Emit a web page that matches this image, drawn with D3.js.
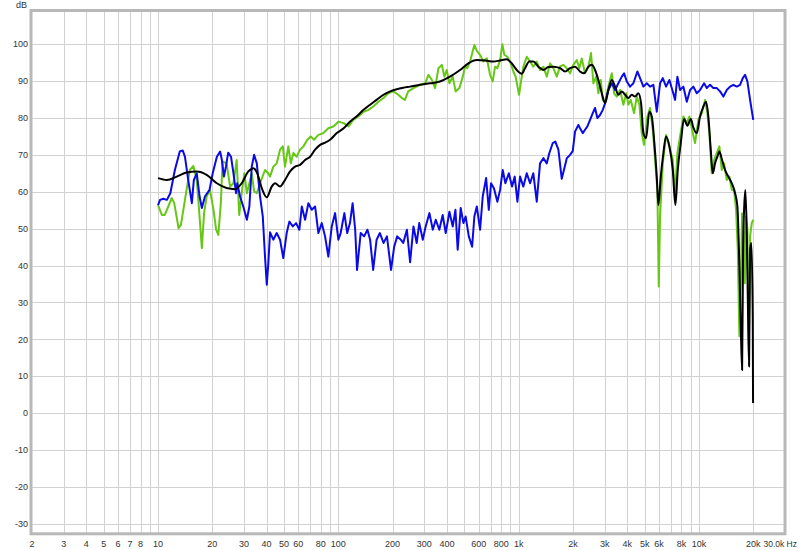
<!DOCTYPE html>
<html><head><meta charset="utf-8">
<script src="https://cdn.jsdelivr.net/npm/d3@7"></script>
<style>body{margin:0;background:#fff;} text{font-family:"Liberation Sans",Arial,sans-serif;}</style>
</head><body>
<svg id="c" width="800" height="550"></svg>
<script>
// ---- data ----
const xTickValues = [2,3,4,5,6,7,8,10,20,30,40,50,60,80,100,200,300,400,600,800,1000,2000,3000,4000,5000,6000,8000,10000,20000];
const xTickLabels = ["2","3","4","5","6","7","8","10","20","30","40","50","60","80","100","200","300","400","600","800","1k","2k","3k","4k","5k","6k","8k","10k","20k"];
const yTickValues = [-30,-20,-10,0,10,20,30,40,50,60,70,80,90,100];

const blueFreq = [
 10,10.26,10.7,11.2,11.7,12.4,13.2,13.7,14.1,14.7,15.4,15.8,16.4,17.0,17.5,18.2,19.3,20.1,21.2,22.1,22.6,23.2,23.8,24.5,25.4,26.2,27.1,27.5,28.5,29.7,31.1,32.1,33.1,34.1,35.3,36.8,38.1,39.2,40.1,40.9,41.8,43.6,45.5,47.5,49.5,51.7,53.5,55.9,58.3,60.8,62.7,65.4,68.2,71.2,74.3,77.5,80.9,84.4,88.0,91.9,95.9,
 100,103,108,112,116,120,124,127,133,139,145,150,156,163,170,178,186,196,204,212,222,229,240,250,261,272,281,294,305,320,334,347,363,379,394,413,431,446,459,477,494,508,529,552,568,586,611,632,660,683,703,730,762,789,816,844,882,919,951,984,
 1018,1062,1109,1157,1206,1260,1314,1371,1432,1480,1546,1598,1661,1734,1786,1849,1928,1995,2054,2143,2190,2267,2334,2405,2489,2576,2653,2732,2828,2927,3014,3145,3285,3426,3572,3732,3843,3978,4148,4328,4554,4756,4916,5134,5355,5587,5834,6085,6299,6570,6853,7157,7370,7590,7856,8195,8560,8928,9310,9723,
 10140,10674,11047,11520,12017,12550,13092,13655,14259,14877,15520,16208,16905,17500,18020,18558,19207,20000];
const blueDb = [
 56.4,57.8,58.1,57.8,59.6,65.9,70.9,71.2,69.5,63.2,56.9,63.2,65,58.7,55.6,58.7,60.5,65,69.5,70.9,68.6,64.1,66.8,70.6,69.5,65,59.6,62.3,58.7,56,52.4,56,66.8,70,67.7,58.7,53.3,42.4,34.8,40.6,49,47,48.8,47,42,48.8,51.9,50.6,51.5,49.7,56,52.4,56.9,55.1,56,48.8,51.5,47.9,42.4,50.6,54.2,
 47,48.8,54.2,48.8,51.5,56.9,49.7,38.8,48.8,47.9,49.7,47,38.8,47,48.8,46.1,47.9,38.8,45.1,47.9,47,46.1,49.7,40.9,50.6,46.1,51.5,47,50.6,54.2,49.7,52.4,49.7,53.7,48.8,54.6,50.6,55.1,44.3,55.6,51.5,53.3,47.9,45.1,53.3,56,49.7,58.7,63.7,55.1,62.3,60.9,57.3,60.5,65.9,62.3,65,61.4,64.1,57.3,
 64.1,61.4,65,62.3,65,57.3,67.7,69.1,67.7,70.5,73.2,73.6,71.4,63.5,66,69.1,70,71,76.3,78.1,77.2,75.9,76.8,77.7,79.5,81.3,82.7,80,80.8,82.2,84,87.6,89.4,87.6,89.4,91.2,92.1,89.9,88.5,89.4,92.6,90.3,88.5,89.4,88.5,89,81.7,89.4,90.8,88.5,90.3,87.2,84.9,91.2,87.6,88.5,84.4,87.6,88.5,86.7,
 87.6,89.4,88.1,89,88.1,88.1,87.2,85.8,87.6,88.5,89,88.5,89,90.8,91.7,89.9,84.9,79.5];

const greenFreq = [
 10,10.5,10.9,11.4,11.9,12.3,13.0,13.4,14.1,15.0,15.7,16.4,17.1,17.5,18.0,18.6,19.4,20.3,21.0,21.6,22.3,22.8,24.0,25.1,26.2,27.3,28.2,29.1,30.1,31.1,32.1,33.1,34.1,35.3,36.8,39.2,40.9,41.8,43.6,45.5,47.5,49.2,50.6,52.8,54.5,56.3,58.8,61.3,64.0,67.3,70.3,73.3,77.5,82.6,88.0,93.8,
 100,107,114,121,129,138,147,156,167,178,189,202,215,225,234,244,261,284,303,316,330,344,359,375,387,399,413,431,447,469,490,504,519,538,557,568,586,611,637,666,694,718,740,762,789,812,833,866,896,935,962,
 1005,1031,1062,1109,1157,1206,1260,1314,1371,1432,1493,1558,1627,1697,1770,1849,1928,2010,2100,2170,2238,2334,2436,2520,2596,2694,2767,2854,2927,3014,3145,3285,3382,3500,3651,3809,3952,4060,4186,4366,4519,4672,4817,4960,5174,5355,5544,5709,5879,5985,6085,6299,6570,6853,7157,7370,7590,7856,8195,8560,8849,9156,9513,9923,
 10363,10810,11131,11418,11772,12126,12550,12976,13378,13778,14259,14745,15203,15660,16064,16417,16755,17057,17345,17634,17951,18253,18558,18890,19207,19628,20000];
const greenDb = [
 56.4,53.7,53.7,56,58.3,56.9,50.1,51,57.8,65.9,67,63.2,51.5,44.7,54.2,58.7,60.5,55.1,49.7,48.3,56.9,68.2,67.7,61.4,62.3,68.6,53.7,59.6,65,59.6,62.3,65,60.1,59.6,62.3,65.9,65,64.1,66.8,67.7,71.4,72.3,66.8,72.3,67.7,70.5,69.5,71.4,72.3,74.1,75,74.1,75.4,75.9,77.2,77.7,
 79,78.6,77.7,79.5,80.4,81.7,82.2,83.1,84.4,85.4,86.7,87.2,86.3,85.4,84.9,87.2,88.1,89,89.4,91.7,90.3,88.1,93.5,94.4,91.2,93,89.4,91.2,87.2,88.1,91.2,93.9,93.5,95.3,98.2,99.8,98.2,97.1,95.3,96.2,91.7,89.9,93.9,93.5,95.7,100,97.1,96.6,95.3,92.6,91.2,
 86.3,89.9,93.9,96.6,95.3,93.9,95.3,93,93.9,91.2,94.8,93.5,91.2,94,94.4,93.5,92.1,94.4,95.7,93.5,96.1,92.1,93.9,97.6,89.4,91.2,86.7,90.3,84.9,84.4,88.5,92.1,86.7,85.8,87.6,83.6,86.7,83.6,84.9,81.3,85.8,83.6,75.9,72.7,80.4,82.7,76.8,68.6,60.5,34.3,53.3,67.7,75.4,72.3,68.6,58.7,70.5,75,80.4,78.6,80.4,76.8,73.2,79.5,
 81.3,84.9,81.3,75.9,65,68.6,70.5,72.3,65.9,67.7,63.2,64.1,60.5,60.5,55.1,44.3,20.8,35.2,54.2,51.5,35.2,53.3,49.7,18.5,47.9,51.5,52.4];

const blackFreq = [
 10,11.2,12.7,14.4,16.4,18.6,21.2,24.0,26.7,29.1,31.7,33.8,35.5,37.6,40.1,42.7,44.6,47.5,50.6,54.0,57.5,61.3,65.4,69.7,74.3,79.2,84.4,90.0,98.0,
 107,116,126,138,150,163,178,194,211,229,250,284,323,366,416,473,526,586,651,724,789,859,916,976,
 1040,1085,1146,1206,1286,1371,1461,1558,1697,1809,1928,2054,2190,2305,2436,2544,2653,2767,2890,3014,3145,3285,3426,3572,3732,3892,4060,4240,4422,4612,4774,4916,5089,5307,5474,5658,5834,5954,6140,6348,6570,6853,7157,7399,7628,7927,8268,8626,9009,9310,9723,
 10140,10577,10950,11273,11624,11926,12281,12649,12976,13432,13954,14558,15203,15860,16334,16755,17057,17345,17566,17793,18090,18414,18723,18965,19207,19530,19874,19950];
const blackDb = [
 63.7,63.2,64.1,65.2,65.5,64.6,62.3,61,60.7,62.3,65.5,66.4,65,61,58.5,61.4,62.3,61.4,63.2,65.5,66.8,67.3,68.6,69.5,71.4,72.7,73.3,74.1,75.9,
 77.2,79,80.4,82.2,83.6,84.9,86.3,87.2,87.8,88.2,88.5,89,89.4,89.9,91.2,93,94.8,95.7,95.6,95.3,95.6,95.9,94.8,93,
 92,93.5,95.3,95.3,93.9,93,93.8,93.9,93.5,92.6,93.5,93.9,92.6,92.1,93.9,94.4,93,90.3,86.7,84,87.6,90.3,88.5,86.3,87.2,86.3,85.4,86.3,85.8,86.7,84,75.9,74.5,81.7,80.4,73.2,64.1,56.4,64.1,70.5,75,72.3,65.9,56.4,65.9,73.2,79.7,77.9,79.7,77.4,75.9,
 80.4,83.1,84.4,80.4,71.4,65,67.7,69.5,70.9,68.6,65.9,64.1,62.3,59.6,56,39.7,23.5,11.7,44.3,55.1,60.5,48.8,26.2,12.6,44.3,46.1,26.2,2.7];

// ---- chart ----
const svg = d3.select("#c");
const L = 32, R = 785, T = 11, B = 533.3;
const x = d3.scaleLog().domain([2, 30000]).range([L, R]);
const y = d3.scaleLinear().domain([-32.6, 109]).range([B, T]);
const FS = 9;

// grid
const gx = x.ticks().filter(v => v < 30000 && v > 2);
svg.append("g").selectAll("line").data(gx).join("line")
  .attr("x1", d => Math.round(x(d)) + 0.5).attr("x2", d => Math.round(x(d)) + 0.5)
  .attr("y1", T).attr("y2", B).attr("stroke", "#d2d2d2").attr("stroke-width", 1);
svg.append("g").selectAll("line").data(yTickValues).join("line")
  .attr("y1", d => Math.round(y(d)) + 0.5).attr("y2", d => Math.round(y(d)) + 0.5)
  .attr("x1", L).attr("x2", R).attr("stroke", "#d2d2d2").attr("stroke-width", 1);

// frame
svg.append("rect").attr("x", L - 1).attr("y", T - 0.5).attr("width", R - L + 1).attr("height", B - T + 1)
  .attr("fill", "none").attr("stroke", "#b8b8b8").attr("stroke-width", 3);

// tick labels
svg.append("g").selectAll("text").data(yTickValues).join("text")
  .attr("x", 28).attr("y", d => y(d) + 3.3).attr("text-anchor", "end")
  .attr("font-size", FS).attr("fill", "#333").text(d => d);
svg.append("text").attr("x", 27).attr("y", 8).attr("text-anchor", "end")
  .attr("font-size", FS).attr("fill", "#333").text("dB");
svg.append("g").selectAll("text").data(xTickValues).join("text")
  .attr("x", d => x(d)).attr("y", 547).attr("text-anchor", "middle")
  .attr("font-size", FS).attr("fill", "#333").text((d, i) => xTickLabels[i]);
svg.append("text").attr("x", 797).attr("y", 547).attr("text-anchor", "end")
  .attr("font-size", 8.5).attr("fill", "#333").text("30.0k Hz");

// series
function pts(F, D) { return F.map((f, i) => [f, D[i]]); }
const line = d3.line().x(d => x(d[0])).y(d => y(d[1]));
const smooth = d3.line().x(d => x(d[0])).y(d => y(d[1])).curve(d3.curveMonotoneX);
const plot = svg.append("g");
plot.append("path").datum(pts(greenFreq, greenDb)).attr("d", line)
  .attr("fill", "none").attr("stroke", "#66c814").attr("stroke-width", 2).attr("stroke-linejoin", "round");
plot.append("path").datum(pts(blueFreq, blueDb)).attr("d", line)
  .attr("fill", "none").attr("stroke", "#0a0ae6").attr("stroke-width", 2).attr("stroke-linejoin", "round");
plot.append("path").datum(pts(blackFreq, blackDb)).attr("d", smooth)
  .attr("fill", "none").attr("stroke", "#000").attr("stroke-width", 2).attr("stroke-linejoin", "round");
</script>
</body></html>
